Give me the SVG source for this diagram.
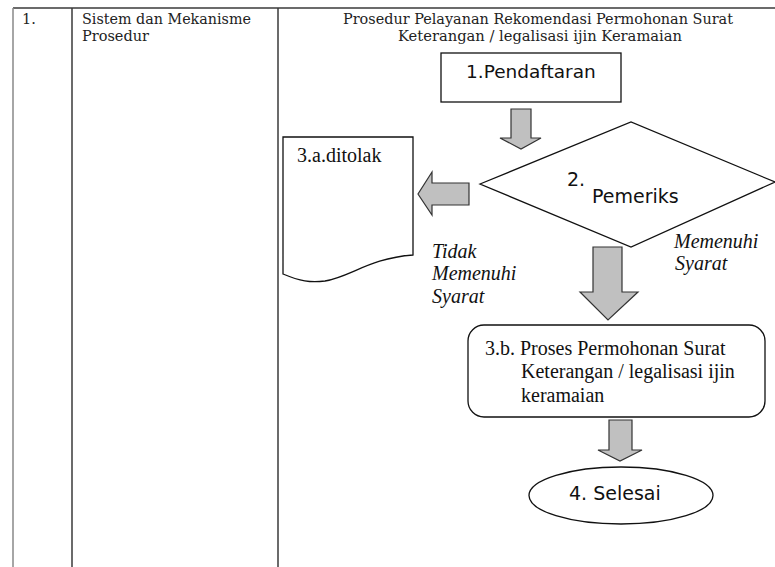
<svg xmlns="http://www.w3.org/2000/svg" width="775" height="567" viewBox="0 0 775 567">
<style>
.tbl{stroke:#3a3a3a;stroke-width:1.5;fill:none}
.hd{font-family:"DejaVu Serif","Liberation Serif",serif;font-size:14.5px;fill:#222}
.sh{fill:#fff;stroke:#111;stroke-width:1.3}
.ar{fill:#c0c0c0;stroke:#333;stroke-width:1.2}
.sans{font-family:"DejaVu Sans","Noto Sans",sans-serif;fill:#111}
.ser{font-family:"Liberation Serif","Times New Roman",serif;font-size:20px;fill:#111}
.it{font-style:italic}
</style>
<rect width="775" height="567" fill="#fff"/>
<g id="table">
<line class="tbl" x1="13" y1="8" x2="775" y2="8"/>
<line x1="13" y1="8" x2="13" y2="567" stroke="#888" stroke-width="1.5"/>
<line class="tbl" x1="72" y1="8" x2="72" y2="567"/>
<line class="tbl" x1="278" y1="8" x2="278" y2="567"/>
<text class="hd" x="22" y="24">1.</text>
<text class="hd" x="82" y="24" textLength="169" lengthAdjust="spacingAndGlyphs">Sistem dan Mekanisme</text>
<text class="hd" x="82" y="40.5" textLength="67" lengthAdjust="spacingAndGlyphs">Prosedur</text>
<text class="hd" x="538" y="24" text-anchor="middle" textLength="390" lengthAdjust="spacingAndGlyphs">Prosedur Pelayanan Rekomendasi Permohonan Surat</text>
<text class="hd" x="540" y="40.5" text-anchor="middle" textLength="284" lengthAdjust="spacingAndGlyphs">Keterangan / legalisasi ijin Keramaian</text>
</g>
<g id="connectors">
<path class="ar" d="M511,109 H531 V138 H541 L521,149 L500,138 H511 Z"/>
<path class="ar" d="M469,183 V205 H432 V215 L418,194 L432,172 V183 Z"/>
<path class="ar" d="M593,247 H622 V292 H638 L608,320 L580,292 H593 Z"/>
<path class="ar" d="M609,420 H632 V450 H642 L620,461 L598,450 H609 Z"/>
</g>
<g id="n1">
<rect class="sh" x="441" y="53" width="180" height="49"/>
<text class="sans" x="466" y="77.5" font-size="18.5">1.Pendaftaran</text>
</g>
<g id="n2">
<polygon class="sh" points="480,184 631,122 775,182 631,247"/>
<text class="sans" x="567" y="186" font-size="19">2.</text>
<text class="sans" x="592" y="203" font-size="19">Pemeriks</text>
</g>
<g id="n3a">
<path class="sh" d="M283,137 H413 V255 C370,258 350,277 325,281 C310,283 300,281 283,274 Z"/>
<text class="ser" x="297" y="162">3.a.ditolak</text>
</g>
<g id="lbl-no">
<text class="ser it" x="432" y="258">Tidak</text>
<text class="ser it" x="432" y="280">Memenuhi</text>
<text class="ser it" x="432" y="303">Syarat</text>
</g>
<g id="lbl-yes">
<text class="ser it" x="674" y="248">Memenuhi</text>
<text class="ser it" x="675" y="270">Syarat</text>
</g>
<g id="n3b">
<rect class="sh" x="468" y="325" width="297" height="92" rx="16"/>
<text class="ser" x="485" y="355">3.b. Proses Permohonan Surat</text>
<text class="ser" x="521" y="378">Keterangan / legalisasi ijin</text>
<text class="ser" x="521" y="402">keramaian</text>
</g>
<g id="n4">
<ellipse class="sh" cx="621" cy="495.5" rx="92" ry="28.5"/>
<text class="sans" x="569" y="500" font-size="19">4. Selesai</text>
</g>
</svg>
